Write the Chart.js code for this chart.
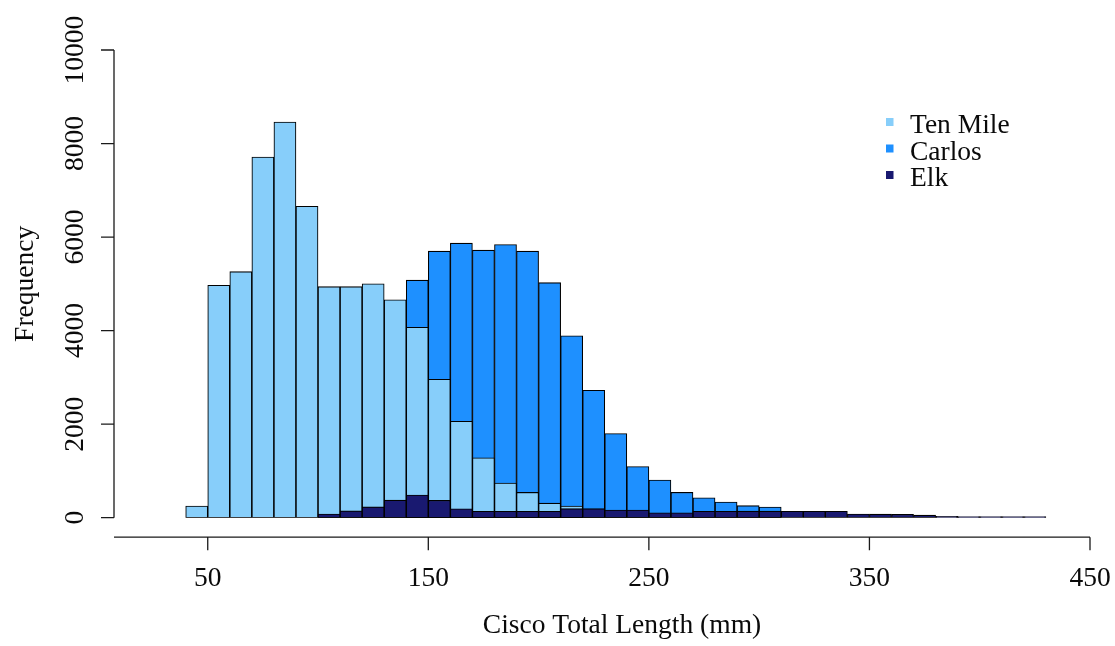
<!doctype html>
<html lang="en">
<head>
<meta charset="utf-8" />
<script src="https://cdn.jsdelivr.net/npm/chart.js@4/dist/chart.umd.min.js"></script>
<style>
  html, body { margin: 0; padding: 0; background: #ffffff; }
  .wrap { width: 1115px; height: 646px; position: relative; }
</style>
</head>
<body>
<div class="wrap"><canvas id="chart"></canvas></div>
<script>
// 10 mm length bins, 40..430 mm (labelled by bin midpoint)
const binMids = [45, 55, 65, 75, 85, 95, 105, 115, 125, 135, 145, 155, 165, 175, 185, 195,
  205, 215, 225, 235, 245, 255, 265, 275, 285, 295, 305, 315, 325, 335, 345, 355, 365,
  375, 385, 395, 405, 415, 425];

const tenMile = [250, 4970, 5260, 7710, 8460, 6660, 4940, 4940, 5000, 4660, 4070, 2960,
  2060, 1280, 740, 540, 310, 250, null, null, null, null, null, null, null, null, null,
  null, null, null, null, null, null, null, null, null, null, null, null];

const carlos = [null, null, null, null, null, null, null, null, null, null, 5080, 5700,
  5870, 5720, 5840, 5700, 5025, 3890, 2725, 1800, 1095, 806, 540, 425, 335, 257, 228,
  null, null, null, null, null, null, null, null, null, null, null, null];

const elk = [null, null, null, null, null, null, 80, 145, 230, 375, 485, 370, 190, 137,
  137, 137, 137, 193, 193, 165, 165, 105, 105, 136, 136, 140, 140, 136, 136, 136, 79,
  75, 71, 55, 28, 21, 0, 0, 0];

const xTicks = [50, 150, 250, 350, 450];
const yTicks = [0, 2000, 4000, 6000, 8000, 10000];

const seriesNames = ['Ten Mile', 'Carlos', 'Elk'];
const seriesColors = { 'Ten Mile': '#87CEFA', 'Carlos': '#1E90FF', 'Elk': '#191970' };

const FONT = '27.5px "Liberation Serif", "Times New Roman", serif';
const INK = '#1a1a1a';

function toPoints(values) {
  return binMids.map((m, i) => ({ x: m, y: values[i] }));
}

function histDataset(name, values, extra) {
  return Object.assign({
    label: name,
    data: toPoints(values),
    backgroundColor: seriesColors[name],
    borderColor: '#000000',
    borderWidth: 1.1,
    borderSkipped: false,
    grouped: false,
    barPercentage: 1,
    categoryPercentage: 1,
  }, extra || {});
}

// base-graphics style axes, labels and legend
const rAxes = {
  id: 'rAxes',
  afterDraw(chart) {
    const { ctx, chartArea, scales } = chart;
    const xs = scales.x, ys = scales.y;
    const tick = 13;
    ctx.save();
    ctx.strokeStyle = INK;
    ctx.lineWidth = 1.3;
    ctx.fillStyle = '#0a0a0a';
    ctx.font = FONT;

    // y axis
    const ax = chartArea.left;
    ctx.beginPath();
    ctx.moveTo(ax, ys.getPixelForValue(yTicks[0]));
    ctx.lineTo(ax, ys.getPixelForValue(yTicks[yTicks.length - 1]));
    yTicks.forEach(v => {
      const py = ys.getPixelForValue(v);
      ctx.moveTo(ax, py);
      ctx.lineTo(ax - tick, py);
    });
    ctx.stroke();
    ctx.textAlign = 'center';
    ctx.textBaseline = 'alphabetic';
    yTicks.forEach(v => {
      ctx.save();
      ctx.translate(83, ys.getPixelForValue(v));
      ctx.rotate(-Math.PI / 2);
      ctx.fillText(String(v), 0, 0);
      ctx.restore();
    });
    ctx.save();
    ctx.translate(33, (chartArea.top + chartArea.bottom) / 2);
    ctx.rotate(-Math.PI / 2);
    ctx.fillText('Frequency', 0, 0);
    ctx.restore();

    // x axis
    const ay = chartArea.bottom + 19.5;
    ctx.beginPath();
    ctx.moveTo(chartArea.left, ay);
    ctx.lineTo(xs.getPixelForValue(xTicks[xTicks.length - 1]), ay);
    xTicks.forEach(v => {
      const px = xs.getPixelForValue(v);
      ctx.moveTo(px, ay);
      ctx.lineTo(px, ay + tick);
    });
    ctx.stroke();
    xTicks.forEach(v => {
      ctx.fillText(String(v), xs.getPixelForValue(v), 586);
    });
    ctx.fillText('Cisco Total Length (mm)', 622, 633);

    // legend
    ctx.textAlign = 'left';
    seriesNames.forEach((name, i) => {
      const base = 133 + i * 26.5;
      ctx.fillStyle = seriesColors[name];
      ctx.fillRect(886, base - 15, 7.5, 8);
      ctx.fillStyle = '#0a0a0a';
      ctx.fillText(name, 910, base);
    });
    ctx.restore();
  }
};

// first dataset is painted on top: Elk over Ten Mile over Carlos
new Chart(document.getElementById('chart'), {
  type: 'bar',
  data: {
    datasets: [
      histDataset('Elk', elk, { minBarLength: 1 }),
      histDataset('Ten Mile', tenMile),
      histDataset('Carlos', carlos),
    ],
  },
  options: {
    responsive: true,
    maintainAspectRatio: false,
    animation: false,
    layout: { padding: { left: 114, right: 25, top: 50, bottom: 128.3 } },
    plugins: { legend: { display: false }, tooltip: { enabled: false } },
    scales: {
      x: { type: 'linear', min: 7.5, max: 450, display: false, offset: false },
      y: { min: 0, max: 10000, display: false },
    },
  },
  plugins: [rAxes],
});
</script>
</body>
</html>
